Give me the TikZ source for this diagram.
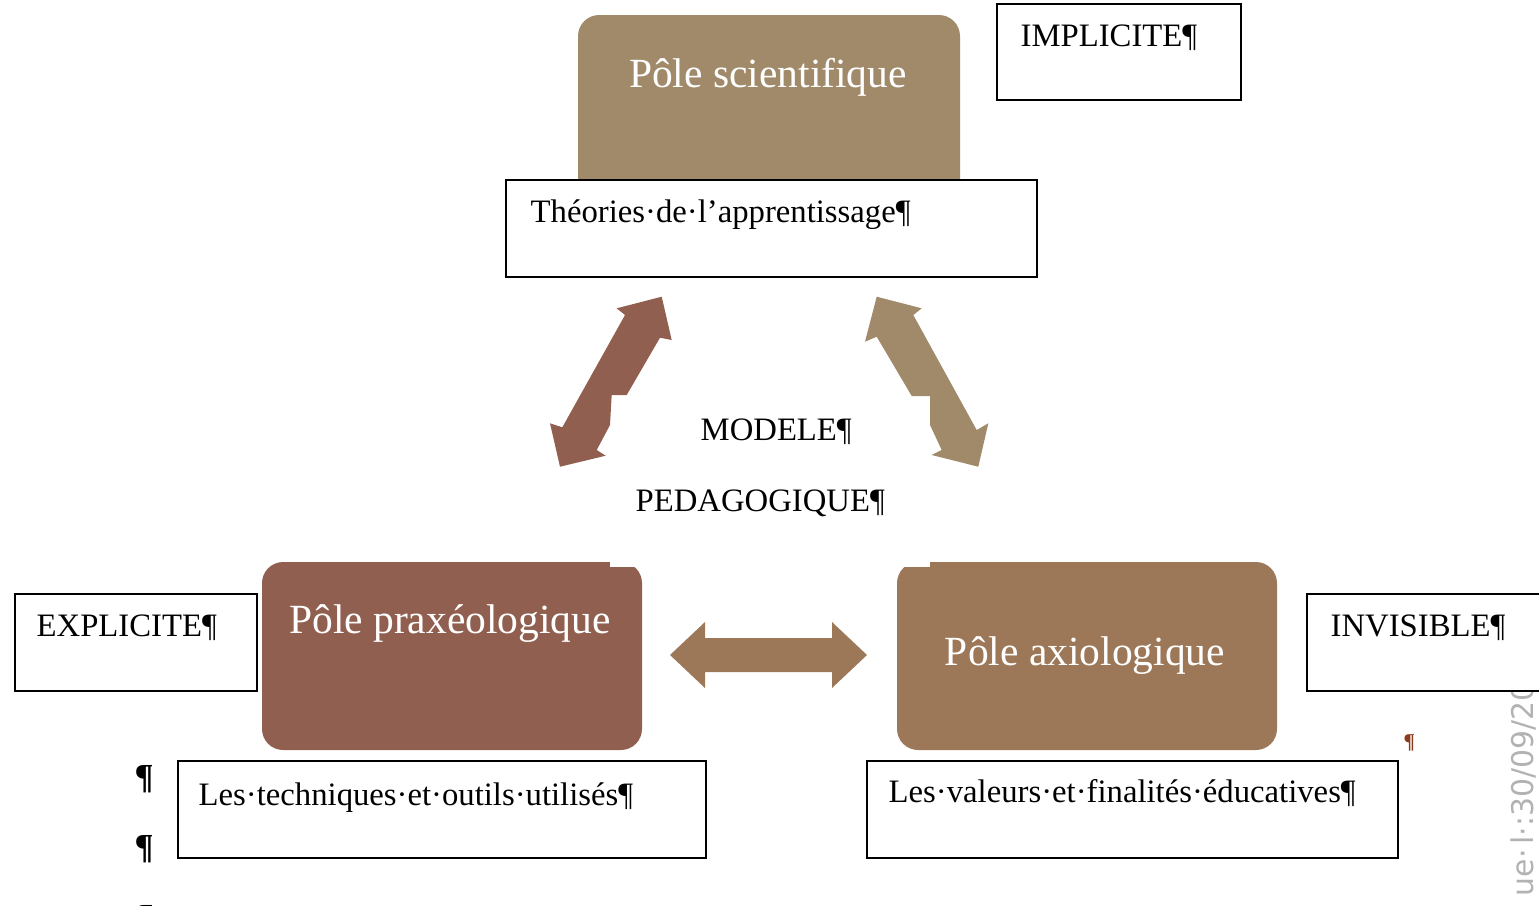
\documentclass[tikz,border=0pt]{standalone}
\usepackage{fontspec}
\setmainfont{Liberation Serif}
\setsansfont{DejaVu Sans}
\usetikzlibrary{calc}
\definecolor{scientan}{RGB}{160,138,106}
\definecolor{praxbrown}{RGB}{145,95,79}
\definecolor{axiobrown}{RGB}{156,120,88}
\definecolor{markred}{RGB}{140,60,30}
\tikzset{pole/.style={rounded corners=6pt}}
\tikzset{textbox/.style={rectangle, draw, line width=0.6pt, fill=white, anchor=north west, inner sep=0pt}}
\tikzset{boxtext/.style={anchor=base west, inner sep=0pt, font=\fontsize{9.3}{11}\selectfont}}
\tikzset{poletext/.style={anchor=base, inner sep=0pt, text=white, font=\fontsize{11.8}{14}\selectfont}}
\tikzset{parmark/.style={anchor=base west, inner sep=0pt}}

\begin{document}
\begin{tikzpicture}[x=0.01cm, y=-0.01cm]
    \useasboundingbox (0,0) rectangle (1539,905);

    \fill[pole, scientan] (578,15) rectangle (960,200);
    \fill[pole, praxbrown] (262,562) rectangle (642,750);
    \fill[white] (610,558) rectangle (646,567);
    \fill[pole, axiobrown] (897,562) rectangle (1277,750);
    \fill[white] (893,558) rectangle (930,567);

    \node[parmark, rotate=90, text=gray!60, font=\sffamily\fontsize{8.5}{10}\selectfont] (stamp) at (1533,897) {ue·\,l·:30/09/20};

    \node[textbox, minimum width=2.44cm, minimum height=0.96cm] (implicite) at (996,3) {};
    \node[textbox, minimum width=5.31cm, minimum height=0.97cm] (theories) at (505,179) {};
    \node[textbox, minimum width=2.42cm, minimum height=0.97cm] (explicite) at (14,593) {};
    \node[textbox, minimum width=2.45cm, minimum height=0.97cm] (invisible) at (1306,593) {};
    \node[textbox, minimum width=5.28cm, minimum height=0.97cm] (techniques) at (177,760) {};
    \node[textbox, minimum width=5.31cm, minimum height=0.97cm] (valeurs) at (866,760) {};

    \node[poletext] (scien) at (768,87) {Pôle scientifique};
    \node[poletext] (prax) at (450,633) {Pôle praxéologique};
    \node[poletext] (axio) at (1085,665) {Pôle axiologique};

    \node[boxtext] (impltxt) at ($(implicite.north west)+(24,43)$) {IMPLICITE¶};
    \node[boxtext] (theotxt) at ($(theories.north west)+(25,43)$) {Théories·de·l’apprentissage¶};
    \node[boxtext] (explitxt) at ($(explicite.north west)+(22,43)$) {EXPLICITE¶};
    \node[boxtext] (invitxt) at ($(invisible.north west)+(24,43)$) {INVISIBLE¶};
    \node[boxtext] (techtxt) at ($(techniques.north west)+(21,45)$) {Les·techniques·et·outils·utilisés¶};
    \node[boxtext] (valtxt) at ($(valeurs.north west)+(22,42)$) {Les·valeurs·et·finalités·éducatives¶};

    \node[boxtext] (modele) at (700,440) {MODELE¶};
    \node[boxtext] (pedago) at (635,511) {PEDAGOGIQUE¶};

    \fill[praxbrown] (661.7,296.7) -- (671.7,340) -- (660,337.7) -- (626.7,395) -- (611.7,395)
        -- (610,425) -- (596.7,450) -- (605.7,455.7) -- (560,466.7) -- (550,423.3)
        -- (562.3,427.3) -- (625,315) -- (616.7,308.3) -- cycle;
    \fill[scientan] (876.7,296.7) -- (921.7,308.3) -- (913.3,315) -- (976.7,430) -- (988.3,423.3)
        -- (978.3,466.7) -- (931.7,455) -- (941.7,450) -- (930,425) -- (930,396)
        -- (911.7,396) -- (876.7,336.7) -- (865,341.7) -- cycle;
    \fill[axiobrown] (670,655) -- (705,622) -- (705,638) -- (832,638) -- (832,622) -- (867,655)
        -- (832,688) -- (832,672) -- (705,672) -- (705,688) -- cycle;

    \node[parmark, font=\fontsize{10}{12}\selectfont\bfseries] (para1) at (134,788) {¶};
    \node[parmark, font=\fontsize{10}{12}\selectfont\bfseries] (para2) at (134,858) {¶};
    \node[parmark, font=\fontsize{10}{12}\selectfont\bfseries] (para3) at (134,928) {¶};
    \node[parmark, text=markred, font=\fontsize{6}{8}\selectfont\bfseries] (para4) at (1403,748) {¶};
\end{tikzpicture}
\end{document}
